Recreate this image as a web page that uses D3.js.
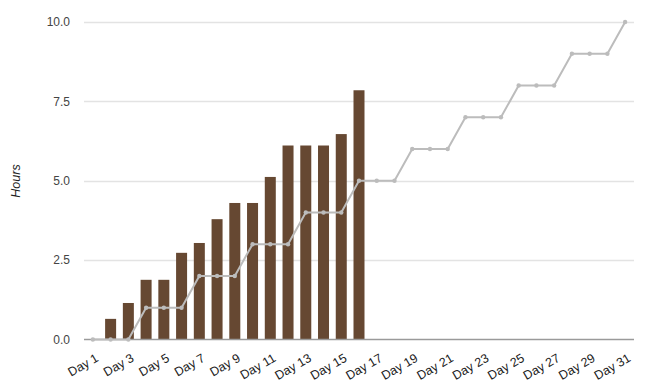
<!DOCTYPE html>
<html><head><meta charset="utf-8">
<script src="https://cdn.jsdelivr.net/npm/d3@7"></script>
<style>body{margin:0;background:#fff}svg text{font-family:"Liberation Sans",Arial,sans-serif}</style>
</head><body><svg id="c" width="646" height="384"></svg>
<script>
const days = d3.range(1, 32).map(d => "Day " + d);
const actual = [0, 0.65, 1.15, 1.88, 1.88, 2.73, 3.04, 3.79, 4.30, 4.30, 5.12, 6.11, 6.11, 6.11, 6.47, 7.85,
  0, 0, 0, 0, 0, 0, 0, 0, 0, 0, 0, 0, 0, 0, 0];
const target = [0, 0, 0, 1, 1, 1, 2, 2, 2, 3, 3, 3, 4, 4, 4, 5, 5, 5, 6, 6, 6, 7, 7, 7, 8, 8, 8, 9, 9, 9, 10];
const yTicks = [0, 2.5, 5, 7.5, 10];
const yTitle = "Hours";

const svg = d3.select("#c");
const m = {l: 84, r: 12, t: 22, b: 44.5};
const W = 646, H = 384;
const x = d3.scaleBand().domain(days).range([m.l, W - m.r]).paddingInner(0.38).paddingOuter(0.19);
const xc = d => x(d) + x.bandwidth() / 2;
const y = d3.scaleLinear().domain([0, 10]).range([H - m.b, m.t]);

svg.append("g").selectAll("line").data(yTicks.slice(1)).join("line")
  .attr("x1", m.l).attr("x2", W - m.r)
  .attr("y1", d => Math.round(y(d)) + 0.5).attr("y2", d => Math.round(y(d)) + 0.5)
  .attr("stroke", "#e3e3e3").attr("stroke-width", 1.4);

const ya = svg.append("g").attr("transform", `translate(${m.l},0)`)
  .call(d3.axisLeft(y).tickValues(yTicks).tickFormat(d3.format(".1f")).tickSize(0).tickPadding(14));
ya.select(".domain").remove();
ya.selectAll("text").attr("font-size", 12).attr("fill", "#444");

svg.append("g").selectAll("rect").data(actual.map((v, i) => ({d: days[i], v}))).join("rect")
  .attr("x", d => x(d.d)).attr("width", x.bandwidth())
  .attr("y", d => y(d.v)).attr("height", d => y(0) - y(d.v))
  .attr("fill", "#664832");

svg.append("line").attr("x1", m.l).attr("x2", W - m.r)
  .attr("y1", y(0)).attr("y2", y(0)).attr("stroke", "#9a9a9a").attr("stroke-width", 1.3);

const pts = target.map((v, i) => ({d: days[i], v}));
svg.append("path").datum(pts)
  .attr("d", d3.line().x(d => xc(d.d)).y(d => y(d.v)))
  .attr("fill", "none").attr("stroke", "#bcbcbc").attr("stroke-width", 2);
svg.append("g").selectAll("circle").data(pts).join("circle")
  .attr("cx", d => xc(d.d)).attr("cy", d => y(d.v)).attr("r", 2.2).attr("fill", "#bcbcbc");

const xa = svg.append("g").attr("transform", `translate(0,${y(0)})`)
  .call(d3.axisBottom(x).tickValues(days.filter((d, i) => i % 2 === 0)).tickSize(0).tickPadding(0));
xa.select(".domain").remove();
xa.selectAll("text").attr("font-size", 12.5).attr("fill", "#222")
  .attr("text-anchor", "end").attr("dy", 0)
  .attr("transform", "translate(6.5,21) rotate(-30)");

svg.append("text").attr("transform", `translate(20,181) rotate(-90)`)
  .attr("text-anchor", "middle").attr("font-size", 12.5).attr("font-style", "italic")
  .attr("fill", "#222").text(yTitle);
</script></body></html>
